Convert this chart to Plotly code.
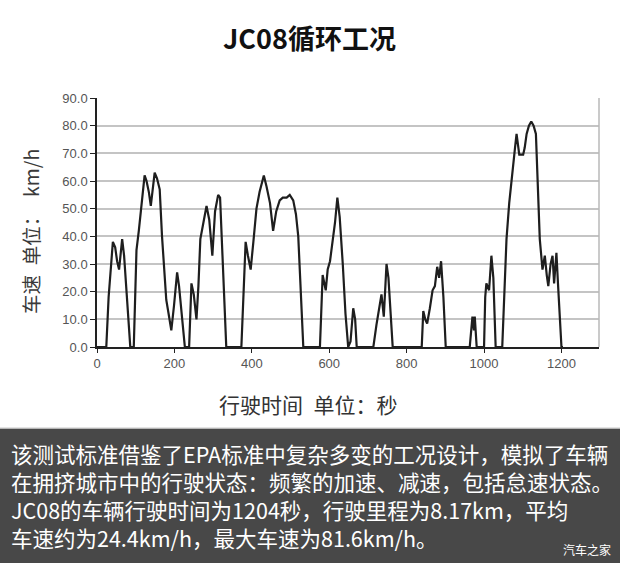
import plotly.graph_objects as go

# ---- data ----
time_s = [0, 24, 30, 36, 41, 47, 52, 57, 61, 65, 70, 78, 86, 95,
          102, 108, 115, 123, 128, 134, 139, 144, 149, 155, 162, 168, 174, 179, 185, 192, 199, 207, 212, 220, 227, 238,
          244, 250, 257, 262, 267, 275, 283, 290, 298, 305, 313, 318, 326, 334, 373,
          378, 384, 390, 397, 404, 412, 420, 431, 438, 447, 455, 463, 472, 480, 490, 498, 507, 514, 520, 527, 533, 576,
          583, 591, 596, 602, 610, 615, 621, 627, 635, 642, 649, 655, 662, 667, 671, 714,
          722, 730, 735, 741, 748, 753, 758, 764, 839,
          843, 848, 853, 860, 867, 873, 879, 884, 889, 895, 901, 963,
          967, 970, 974, 976, 981, 1000,
          1003, 1006, 1013, 1016, 1019, 1024, 1030, 1047,
          1052, 1058, 1065, 1073, 1080, 1084, 1091, 1101, 1105, 1110, 1116, 1122, 1128, 1134, 1140, 1144,
          1151, 1157, 1162, 1166, 1172, 1177, 1181, 1187, 1191, 1196, 1200, 1204]
speed_kmh = [0, 0, 18, 30, 38, 36, 31, 28, 33, 39, 33, 15, 0, 0,
             35, 42, 52, 62, 60, 56, 51, 58, 63, 61, 57, 40, 25, 17, 12, 6, 15, 27, 22, 10, 0, 0,
             23, 19, 10, 22, 39, 45, 51, 46, 33, 49, 55, 54, 25, 0, 0,
             20, 38, 33, 28, 38, 50, 56, 62, 58, 52, 42, 49, 53, 54, 54, 55, 53, 48, 40, 20, 0, 0,
             26, 20.5, 28, 31, 40, 45, 54, 47, 30, 12, 0, 2, 14, 10, 0, 0,
             8, 15, 19, 11, 30, 25, 12, 0, 0,
             13, 10, 8.5, 14, 20.5, 22, 29, 25, 31, 18, 0, 0,
             6, 11, 6, 11, 0, 0,
             18, 23, 20.5, 26, 33, 25, 0, 0,
             18, 39, 52, 64, 72, 77, 69.5, 69.5, 72, 77, 80, 81.5, 80, 77, 55, 39,
             28, 33, 26, 22, 30, 33, 23, 34, 23, 12, 0, 0]

x_ticks = [0, 200, 400, 600, 800, 1000, 1200]
y_ticks = [0, 10, 20, 30, 40, 50, 60, 70, 80, 90]

title_text = "JC08循环工况"
x_title = "行驶时间\u2002单位：秒"
y_title = "车速\u2002单位：\u2002km/h"
caption_lines = [
    "该测试标准借鉴了EPA标准中复杂多变的工况设计，模拟了车辆",
    "在拥挤城市中的行驶状态：频繁的加速、减速，包括怠速状态。",
    "JC08的车辆行驶时间为1204秒，行驶里程为8.17km，平均",
    "车速约为24.4km/h，最大车速为81.6km/h。",
]
watermark = "汽车之家"

# ---- layout geometry ----
W, H = 620, 563
L, R, T, B = 97, 599, 98, 347
PW, PH = R - L, B - T


def px_x(px):
    return (px - L) / PW


def px_y(py):
    return (B - py) / PH


CJK = "Noto Sans CJK SC"
NUM = "Liberation Sans, Arial, sans-serif"

fig = go.Figure()
fig.add_trace(go.Scatter(x=time_s, y=speed_kmh, mode="lines",
                         line=dict(color="#1e1e1e", width=2.2), hoverinfo="skip",
                         showlegend=False))

fig.update_layout(
    width=W, height=H, autosize=False,
    margin=dict(l=L, r=W - R, t=T, b=H - B, pad=0),
    paper_bgcolor="white", plot_bgcolor="white",
    showlegend=False,
    xaxis=dict(range=[0, 1297], tickvals=x_ticks, ticktext=[str(v) for v in x_ticks],
               showgrid=False, zeroline=False, showline=True, linecolor="#222", linewidth=1.5,
               ticks="outside", ticklen=4, tickcolor="#222",
               tickfont=dict(family=NUM, size=13, color="#555")),
    yaxis=dict(range=[0, 90], tickvals=y_ticks, ticktext=[f"{v:.1f}" for v in y_ticks],
               showgrid=True, gridcolor="#c4c4c4", gridwidth=1.5, zeroline=False,
               showline=True, linecolor="#222", linewidth=1.5,
               ticks="outside", ticklen=5, tickcolor="#222",
               tickfont=dict(family=NUM, size=13, color="#555")),
)

shapes = [
    # right border of plot area
    dict(type="line", xref="paper", yref="paper", x0=1, x1=1, y0=0, y1=1,
         line=dict(color="#b8b8b8", width=1.5)),
    # caption band
    dict(type="rect", xref="paper", yref="paper", x0=px_x(0), x1=px_x(W),
         y0=px_y(H), y1=px_y(428.5), fillcolor="#484848", line=dict(width=0), layer="below"),
    dict(type="line", xref="paper", yref="paper", x0=px_x(0), x1=px_x(W),
         y0=px_y(428), y1=px_y(428), line=dict(color="#c8c8c8", width=1)),
]
fig.update_layout(shapes=shapes)

ann = [
    dict(text=f"<b>{title_text}</b>", x=px_x(309), y=px_y(38), xref="paper", yref="paper",
         xanchor="center", yanchor="middle", showarrow=False,
         font=dict(family=CJK, size=27, color="#111")),
    dict(text=x_title, x=px_x(308), y=px_y(404), xref="paper", yref="paper",
         xanchor="center", yanchor="middle", showarrow=False,
         font=dict(family=CJK, size=21, color="#333")),
    dict(text=y_title, x=px_x(30), y=px_y(232), xref="paper", yref="paper",
         xanchor="center", yanchor="middle", showarrow=False, textangle=-90,
         font=dict(family=CJK, size=19.5, color="#3a3a3a")),
    dict(text=watermark, x=px_x(613), y=px_y(549), xref="paper", yref="paper",
         xanchor="right", yanchor="middle", showarrow=False,
         font=dict(family=CJK, size=12, color="#ffffff")),
]
for i, line in enumerate(caption_lines):
    ann.append(dict(text=line, x=px_x(9), y=px_y(453 + 28 * i), xref="paper", yref="paper",
                    xanchor="left", yanchor="middle", showarrow=False, align="left",
                    font=dict(family=CJK, size=21.5, color="#ffffff")))
fig.update_layout(annotations=ann)

fig.write_html("out.html", config={"displayModeBar": False},
               post_script="document.body.style.margin='0';document.body.style.overflow='hidden';")
